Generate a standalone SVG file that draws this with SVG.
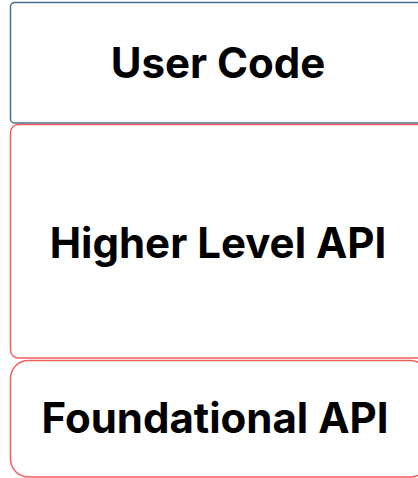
<svg xmlns="http://www.w3.org/2000/svg" width="418" height="478" viewBox="0 0 418 478">
<style>
.box{fill:#ffffff;stroke-width:1.5}
.blue{stroke:#44708f}
.red{stroke:#f06060}
.lbl{font-family:Inter,"Liberation Sans",sans-serif;font-weight:700;font-size:42px;fill:#000;text-anchor:middle}
</style>
<rect width="418" height="478" fill="#ffffff"/>
<g id="user-code">
<rect class="box blue" x="10.5" y="2.5" width="416" height="120.5" rx="4"/>
<text class="lbl" x="218" y="78">User Code</text>
</g>
<g id="higher-level-api">
<rect class="box red" x="10.5" y="124.5" width="416" height="233.5" rx="8"/>
<text class="lbl" x="218" y="258">Higher Level API</text>
</g>
<g id="foundational-api">
<rect class="box red" x="10.5" y="360.5" width="418" height="116.5" rx="18"/>
<text class="lbl" x="215" y="432.5">Foundational API</text>
</g>
<g id="connectors"></g>
</svg>
